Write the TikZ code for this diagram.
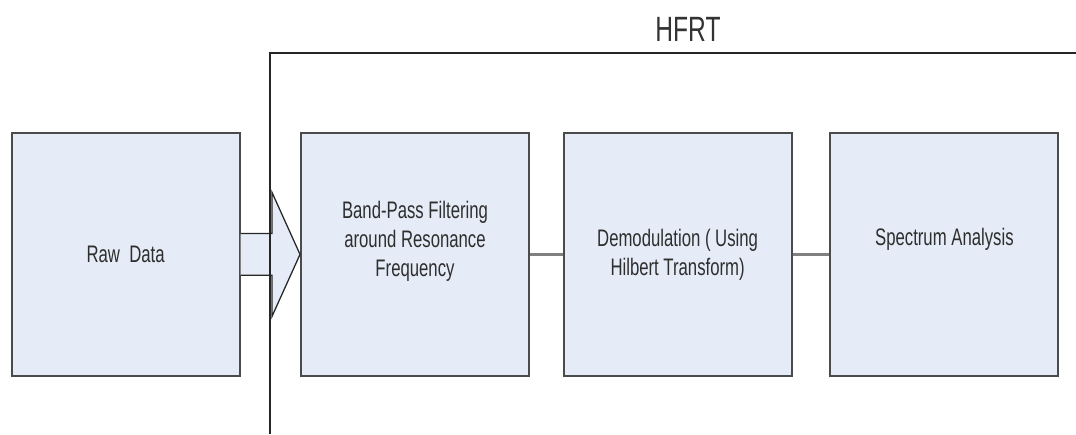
\documentclass[tikz,border=0pt]{standalone}
\usepackage{fontspec}
\newfontfamily\diagfont{Liberation Sans}[FakeStretch=0.7]
\usetikzlibrary{calc}
\definecolor{boxfill}{RGB}{230,236,247}
\definecolor{boxline}{RGB}{75,75,75}

\begin{document}
\begin{tikzpicture}[
  box/.style={draw=boxline, line width=1.4pt, fill=boxfill,
    minimum width=5.7cm, minimum height=6.075cm, align=center,
    text=black!82, font=\diagfont\fontsize{17}{20.6}\selectfont},
  link/.style={draw=black!50, line width=2.2pt},
  bigarrow/.style={draw=black!85, line width=0.9pt, fill=boxfill},
  bracket/.style={draw=black!85, line width=1.1pt},
]
 \useasboundingbox (0,0) rectangle (26.9,10.85);

 \node[box] (A) at(3.14,4.49) {Raw~~Data};
 \node[box, text depth=0.8cm] (B) at(10.375,4.49) {Band-Pass Filtering\\around Resonance\\Frequency};
 \node[box] (C) at(16.94,4.49) {Demodulation ( Using\\Hilbert Transform)};
 \node[box, text depth=0.86cm] (D) at(23.61,4.49) {Spectrum Analysis};

 \draw[link] (B) -- (C);
 \draw[link] (C) -- (D);

 % block arrow from the raw data into the first stage
 \draw[bigarrow] ($(A.east)+(0,0.52)$) -| ($(B.west)+(-0.7,1.55)$) -- (B.west)
   -- ($(B.west)+(-0.7,-1.55)$) |- ($(A.east)+(0,-0.52)$);

 % bracket over the three stages
 \coordinate (P) at(6.75,0);
 \coordinate (Q) at(26.9,9.525);
 \draw[bracket] (P) |- (Q);
 \node[text=black!80, font=\diagfont\fontsize{25}{28}\selectfont] (H) at(17.2,10.125) {HFRT};

\end{tikzpicture}
\end{document}
